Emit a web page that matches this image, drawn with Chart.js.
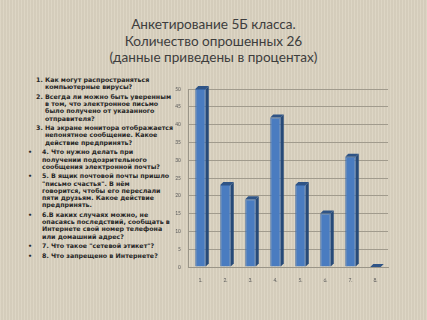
<!DOCTYPE html>
<html lang="ru">
<head>
<meta charset="utf-8">
<script src="https://cdn.jsdelivr.net/npm/chart.js@4.4.0/dist/chart.umd.min.js"></script>
<style>
  html, body {
    margin: 0;
    padding: 0;
  }
  body {
    width: 427px;
    height: 320px;
    overflow: hidden;
    position: relative;
    background: #dbd3c1;
    background-image: repeating-linear-gradient(90deg, rgba(255,255,255,0.06) 0 1px, rgba(0,0,0,0.03) 1px 3px);
    font-family: Lato, "Open Sans", sans-serif;
  }
  #title {
    position: absolute;
    left: 0;
    top: 16px;
    width: 427px;
    text-align: center;
    font-size: 13.6px;
    line-height: 16.5px;
    color: #3d3d3d;
  }
  #questions {
    position: absolute;
    left: 0;
    top: 76px;
    width: 175px;
    font-family: "DejaVu Sans", sans-serif;
    font-size: 6.3px;
    line-height: 7.2px;
    font-weight: bold;
    color: #262626;
  }
  .q {
    position: relative;
    margin-bottom: 2.5px;
    white-space: nowrap;
  }
  .num {
    position: absolute;
    left: 36px;
  }
  .num + span {
    display: block;
    padding-left: 45px;
  }
  .bul {
    position: absolute;
    left: 28px;
  }
  .bul + span {
    display: block;
    padding-left: 42px;
  }
  #wrap {
    position: absolute;
    left: 160px;
    top: 76px;
    width: 240px;
    height: 209px;
  }
</style>
</head>
<body>
<div id="title">Анкетирование 5Б класса.<br>Количество опрошенных 26<br>(данные приведены в процентах)</div>

<div id="questions">
  <div class="q"><span class="num">1.</span><span>Как могут распространяться<br>компьютерные вирусы?</span></div>
  <div class="q"><span class="num">2.</span><span>Всегда ли можно быть уверенным<br>в том, что электронное письмо<br>было получено от указанного<br>отправителя?</span></div>
  <div class="q"><span class="num">3.</span><span>На экране монитора отображается<br>непонятное сообщение. Какое<br>действие предпринять?</span></div>
  <div class="q"><span class="bul">•</span><span>4. Что нужно делать при<br>получении подозрительного<br>сообщения электронной почты?</span></div>
  <div class="q"><span class="bul">•</span><span>5. В ящик почтовой почты пришло<br>"письмо счастья". В нём<br>говорится, чтобы его переслали<br>пяти друзьям. Какое действие<br>предпринять.</span></div>
  <div class="q"><span class="bul">•</span><span>6.В каких случаях можно, не<br>опасаясь последствий, сообщать в<br>Интернете свой номер телефона<br>или домашний адрес?</span></div>
  <div class="q"><span class="bul">•</span><span>7. Что такое "сетевой этикет"?</span></div>
  <div class="q"><span class="bul">•</span><span>8. Что запрещено в Интернете?</span></div>
</div>

<div id="wrap"><canvas id="chart"></canvas></div>

<script>
// --- Chart Data ---
const questionLabels = ["1.", "2.", "3.", "4.", "5.", "6.", "7.", "8."];
const percentValues = [50, 23, 19, 42, 23, 15, 31, 0];
const yTicks = [0, 5, 10, 15, 20, 25, 30, 35, 40, 45, 50];

// --- fake 3D faces on each bar ---
const barDepth = {
  id: "barDepth",
  afterDatasetsDraw(chart) {
    const ctx = chart.ctx;
    const d = 3;
    chart.getDatasetMeta(0).data.forEach((bar) => {
      const half = bar.width / 2;
      const left = bar.x - half;
      const right = bar.x + half;
      ctx.save();
      // side
      ctx.fillStyle = "#274a78";
      ctx.beginPath();
      ctx.moveTo(right, bar.y);
      ctx.lineTo(right + d, bar.y - d);
      ctx.lineTo(right + d, bar.base - d);
      ctx.lineTo(right, bar.base);
      ctx.closePath();
      ctx.fill();
      // top
      ctx.fillStyle = "#2f5486";
      ctx.beginPath();
      ctx.moveTo(left, bar.y);
      ctx.lineTo(left + d, bar.y - d);
      ctx.lineTo(right + d, bar.y - d);
      ctx.lineTo(right, bar.y);
      ctx.closePath();
      ctx.fill();
      ctx.restore();
    });
  },
};

const ctx = document.getElementById("chart").getContext("2d");
new Chart(ctx, {
  type: "bar",
  data: {
    labels: questionLabels,
    datasets: [
      {
        data: percentValues,
        backgroundColor: "#4a7cc0",
        borderColor: "#3b68a6",
        borderWidth: 1,
        barPercentage: 0.42,
        categoryPercentage: 1,
      },
    ],
  },
  options: {
    responsive: true,
    maintainAspectRatio: false,
    animation: false,
    layout: { padding: { top: 13, right: 12, left: 0, bottom: 0 } },
    plugins: {
      legend: { display: false },
      tooltip: { enabled: false },
    },
    scales: {
      x: {
        grid: { display: false },
        border: { color: "#9a9588" },
        ticks: {
          color: "#5a5a5a",
          font: { family: "Lato", size: 5 },
          padding: 2,
        },
        afterFit: (scale) => {
          scale.height = 18;
        },
      },
      y: {
        min: 0,
        max: 50,
        afterBuildTicks: (scale) => {
          scale.ticks = yTicks.map((v) => ({ value: v }));
        },
        grid: {
          color: "#a19b8d",
          lineWidth: 1,
          drawTicks: false,
        },
        border: { color: "#9a9588" },
        ticks: {
          color: "#5a5a5a",
          font: { family: "Lato", size: 5 },
          padding: 7,
        },
        afterFit: (scale) => {
          scale.width = 28;
        },
      },
    },
  },
  plugins: [barDepth],
});
</script>
</body>
</html>
